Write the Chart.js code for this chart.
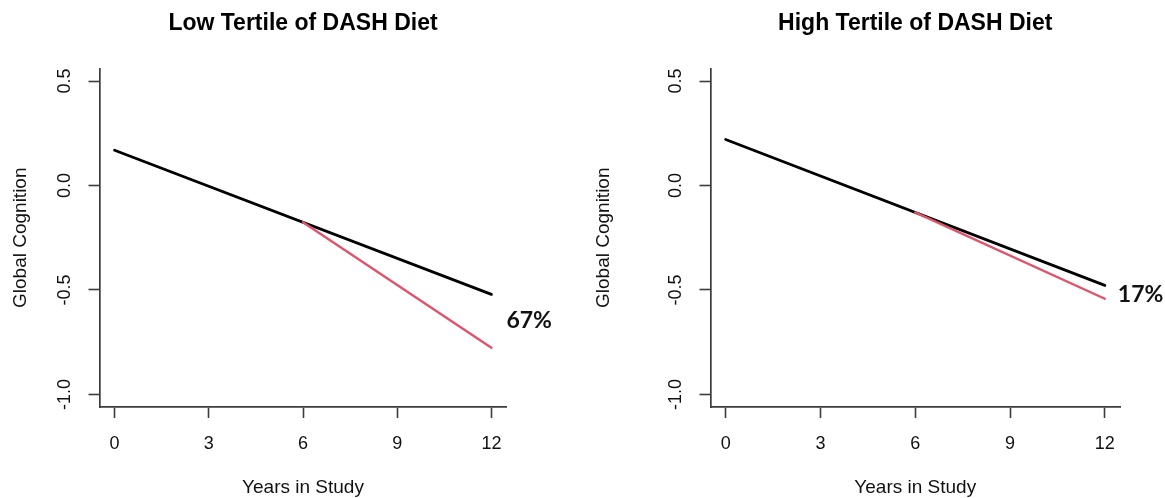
<!DOCTYPE html>
<html>
<head>
<meta charset="utf-8">
<script src="https://cdn.jsdelivr.net/npm/chart.js@4.4.1/dist/chart.umd.min.js"></script>
<style>
  html, body { margin: 0; padding: 0; background: #ffffff; }
  #wrap { position: relative; width: 1165px; height: 498px; overflow: hidden; background: #fff; }
  canvas { position: absolute; top: 0; }
  #cLow { left: 0px; }
  #cHigh { left: 583px; }
</style>
</head>
<body>
<div id="wrap">
  <canvas id="cLow" width="583" height="498"></canvas>
  <canvas id="cHigh" width="582" height="498"></canvas>
</div>
<script>
// ---------------- data ----------------
const panelTitles = ["Low Tertile of DASH Diet", "High Tertile of DASH Diet"];
const xAxisTitle = "Years in Study";
const yAxisTitle = "Global Cognition";
const xTickValues = [0, 3, 6, 9, 12];
const xTickLabels = ["0", "3", "6", "9", "12"];
const yTickValues = [-1.0, -0.5, 0.0, 0.5];
const yTickLabels = ["-1.0", "-0.5", "0.0", "0.5"];

const lowBlackYears  = [0, 12];
const lowBlackValues = [0.169, -0.521];
const lowRedYears    = [6, 12];
const lowRedValues   = [-0.176, -0.777];

const highBlackYears  = [0, 12];
const highBlackValues = [0.220, -0.478];
const highRedYears    = [6, 12];
const highRedValues   = [-0.129, -0.542];

const annotationLabels = ["67%", "17%"];

// ---------------- styling / layout ----------------
const FONT = "'Liberation Sans', Arial, Helvetica, sans-serif";
const AXIS_COLOR = "#3c3c3c";
const TEXT_COLOR = "#111111";
const RED = "#DF536B";
const X_MIN = -0.48, X_MAX = 12.48;
const Y_MIN = -1.06, Y_MAX = 0.56;

function pts(xs, ys) { return xs.map((x, i) => ({ x: x, y: ys[i] })); }

const annotationPlugin = {
  id: 'endLabel',
  afterDatasetsDraw(chart, args, opts) {
    const ctx = chart.ctx;
    const xs = chart.scales.x, ys = chart.scales.y;
    const px = xs.getPixelForValue(opts.atX) + opts.dx;
    const py = ys.getPixelForValue(opts.atY) + opts.dy;
    ctx.save();
    ctx.font = "bold 23px Lato, 'Open Sans', sans-serif";
    ctx.fillStyle = TEXT_COLOR;
    ctx.textAlign = 'left';
    ctx.textBaseline = 'middle';
    ctx.fillText(opts.text, px, py);
    ctx.restore();
  }
};

function makeChart(canvasId, title, blackX, blackY, redX, redY, label, leftW, rightPad, dx, dy) {
  const ctx = document.getElementById(canvasId);
  return new Chart(ctx, {
    type: 'scatter',
    data: {
      datasets: [
        {
          label: 'red',
          data: pts(redX, redY),
          showLine: true,
          borderColor: RED,
          backgroundColor: RED,
          borderWidth: 2.4,
          pointRadius: 0,
          borderCapStyle: 'round',
          order: 0
        },
        {
          label: 'black',
          data: pts(blackX, blackY),
          showLine: true,
          borderColor: '#000000',
          backgroundColor: '#000000',
          borderWidth: 2.8,
          pointRadius: 0,
          borderCapStyle: 'round',
          order: 1
        }
      ]
    },
    options: {
      responsive: false,
      animation: false,
      devicePixelRatio: 1,
      events: [],
      layout: { padding: { left: 0, right: rightPad, top: 0, bottom: 0 } },
      plugins: {
        legend: { display: false },
        tooltip: { enabled: false },
        title: {
          display: true,
          text: title,
          fullSize: false,
          color: '#000000',
          font: { family: FONT, size: 23, weight: 'bold', lineHeight: 1.2 },
          padding: { top: 10, bottom: 30.9 }
        },
        endLabel: {
          text: label,
          atX: 12,
          atY: (blackY[blackY.length - 1] + redY[redY.length - 1]) / 2,
          dx: dx,
          dy: dy
        }
      },
      scales: {
        x: {
          type: 'linear',
          position: 'bottom',
          min: X_MIN,
          max: X_MAX,
          afterBuildTicks: (s) => { s.ticks = xTickValues.map(v => ({ value: v })); },
          afterFit: (s) => { s.height = 91; },
          ticks: {
            autoSkip: false,
            maxRotation: 0,
            minRotation: 0,
            padding: 15.2,
            color: TEXT_COLOR,
            font: { family: FONT, size: 18 },
            callback: (v) => { const i = xTickValues.indexOf(v); return i >= 0 ? xTickLabels[i] : ''; }
          },
          grid: {
            display: true,
            drawOnChartArea: false,
            drawTicks: true,
            tickLength: 11,
            tickWidth: 1.6,
            tickColor: AXIS_COLOR,
            color: AXIS_COLOR
          },
          border: { display: true, color: AXIS_COLOR, width: 1.7 },
          title: {
            display: true,
            text: xAxisTitle,
            color: TEXT_COLOR,
            font: { family: FONT, size: 19, lineHeight: 1 },
            padding: { top: 0, bottom: 0.5 }
          }
        },
        y: {
          type: 'linear',
          position: 'left',
          min: Y_MIN,
          max: Y_MAX,
          afterBuildTicks: (s) => { s.ticks = yTickValues.map(v => ({ value: v })); },
          afterFit: (s) => { s.width = leftW; },
          ticks: {
            autoSkip: false,
            minRotation: 90,
            maxRotation: 90,
            crossAlign: 'center',
            padding: 8,
            color: TEXT_COLOR,
            font: { family: FONT, size: 18 },
            callback: (v) => {
              const i = yTickValues.findIndex(t => Math.abs(t - v) < 1e-9);
              return i >= 0 ? yTickLabels[i] : '';
            }
          },
          grid: {
            display: true,
            drawOnChartArea: false,
            drawTicks: true,
            tickLength: 11,
            tickWidth: 1.6,
            tickColor: AXIS_COLOR,
            color: AXIS_COLOR
          },
          border: { display: true, color: AXIS_COLOR, width: 1.7 },
          title: {
            display: true,
            text: yAxisTitle,
            color: TEXT_COLOR,
            font: { family: FONT, size: 19, lineHeight: 1.2 },
            padding: { top: 9.2, bottom: 0 }
          }
        }
      }
    },
    plugins: [annotationPlugin]
  });
}

function drawAll() {
  makeChart('cLow', panelTitles[0], lowBlackYears, lowBlackValues, lowRedYears, lowRedValues,
            annotationLabels[0], 99.5, 583 - 506.5, 15, -1);
  makeChart('cHigh', panelTitles[1], highBlackYears, highBlackValues, highRedYears, highRedValues,
            annotationLabels[1], 127.5, 582 - 537, 13, 2.5);
}

if (document.fonts && document.fonts.load) {
  Promise.all([
    document.fonts.load("bold 23px Lato"),
    document.fonts.load("18px 'Liberation Sans'"),
    document.fonts.load("bold 23px 'Liberation Sans'")
  ]).then(drawAll, drawAll);
} else {
  drawAll();
}
</script>
</body>
</html>
